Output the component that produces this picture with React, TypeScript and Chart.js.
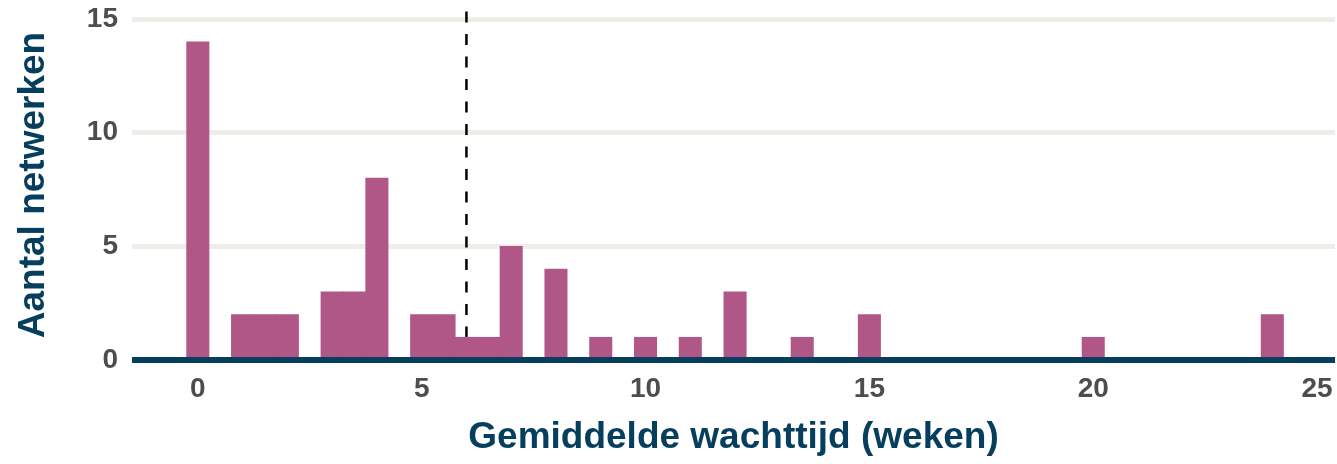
import React, { useEffect, useRef } from "react";
import { Chart, registerables } from "chart.js";

Chart.register(...registerables);

// Histogram bins (bin centre in weeks, bin width 0.5) and counts
const binCenters = [0, 1, 1.5, 2, 3, 3.5, 4, 5, 5.5, 6, 6.5, 7, 8, 9, 10, 11, 12, 13.5, 15, 20, 24];
const counts = [14, 2, 2, 2, 3, 3, 8, 2, 2, 1, 1, 5, 4, 1, 1, 1, 3, 1, 2, 1, 2];
const meanWait = 6.0;
const xTicks = [0, 5, 10, 15, 20, 25];
const yTicks = [0, 5, 10, 15];
const xTitle = "Gemiddelde wachttijd (weken)";
const yTitle = "Aantal netwerken";

const BAR = "#b05787";
const NAVY = "#063e5e";
const GRID = "#f0ece7";
const TICK = "#4d4d4d";
const FONT = "'Liberation Sans', Arial, sans-serif";

export default function App() {
  const ref = useRef<HTMLCanvasElement | null>(null);

  useEffect(() => {
    if (!ref.current) return;
    const meanLine = {
      id: "meanLine",
      beforeDatasetsDraw(chart: any) {
        const { ctx, chartArea, scales } = chart;
        const x = scales.x.getPixelForValue(meanWait);
        ctx.save();
        ctx.strokeStyle = "#000";
        ctx.lineWidth = 2.5;
        ctx.setLineDash([11, 11.5]);
        ctx.beginPath();
        ctx.moveTo(x, chartArea.bottom);
        ctx.lineTo(x, chartArea.top);
        ctx.stroke();
        ctx.restore();
      },
      afterDatasetsDraw(chart: any) {
        const { ctx, chartArea, scales } = chart;
        const y = scales.y.getPixelForValue(0);
        ctx.save();
        ctx.strokeStyle = NAVY;
        ctx.lineWidth = 6;
        ctx.beginPath();
        ctx.moveTo(chartArea.left, y);
        ctx.lineTo(chartArea.right, y);
        ctx.stroke();
        ctx.restore();
      },
    };

    const chart = new Chart(ref.current, {
      type: "bar",
      data: {
        datasets: [
          {
            data: binCenters.map((x, i) => ({ x, y: counts[i] })),
            backgroundColor: BAR,
            borderWidth: 0,
            barPercentage: 1,
            categoryPercentage: 1,
          },
        ],
      },
      options: {
        responsive: false,
        animation: false,
        layout: { padding: { top: 10, right: 2, left: 0, bottom: 0 } },
        plugins: { legend: { display: false }, tooltip: { enabled: false } },
        scales: {
          x: {
            type: "linear",
            offset: false,
            min: -1.47,
            max: 25.4,
            grid: { display: false, drawTicks: false, offset: false },
            border: { display: false },
            afterBuildTicks: (s: any) => {
              s.ticks = xTicks.map((v) => ({ value: v }));
            },
            afterFit: (s: any) => {
              s.height = 104;
              s.paddingLeft = 0;
              s.paddingRight = 0;
            },
            ticks: {
              color: TICK,
              padding: 12,
              font: { family: FONT, size: 28, weight: "bold" },
              callback: (v: any) => String(v),
            },
            title: {
              display: true,
              text: xTitle,
              color: NAVY,
              padding: { top: 0, bottom: 4 },
              font: { family: FONT, size: 37, weight: "bold" },
            },
          },
          y: {
            min: 0,
            max: 15.4,
            grid: {
              drawTicks: false,
              lineWidth: 5,
              color: (c: any) => (c.tick && c.tick.value === 0 ? "rgba(0,0,0,0)" : GRID),
            },
            border: { display: false },
            afterBuildTicks: (s: any) => {
              s.ticks = yTicks.map((v) => ({ value: v }));
            },
            afterFit: (s: any) => {
              s.width = 132;
              s.paddingTop = 0;
              s.paddingBottom = 0;
            },
            ticks: {
              color: TICK,
              padding: 14,
              font: { family: FONT, size: 28, weight: "bold" },
              callback: (v: any) => String(v),
            },
            title: {
              display: true,
              text: yTitle,
              color: NAVY,
              padding: { top: 12, bottom: 0 },
              font: { family: FONT, size: 37, weight: "bold" },
            },
          },
        },
      },
      plugins: [meanLine],
    } as any);
    return () => chart.destroy();
  }, []);

  return (
    <div style={{ position: "absolute", left: 0, top: 0, width: 1337, height: 464, background: "#fff" }}>
      <canvas ref={ref} width={1337} height={464} style={{ display: "block" }} />
    </div>
  );
}
